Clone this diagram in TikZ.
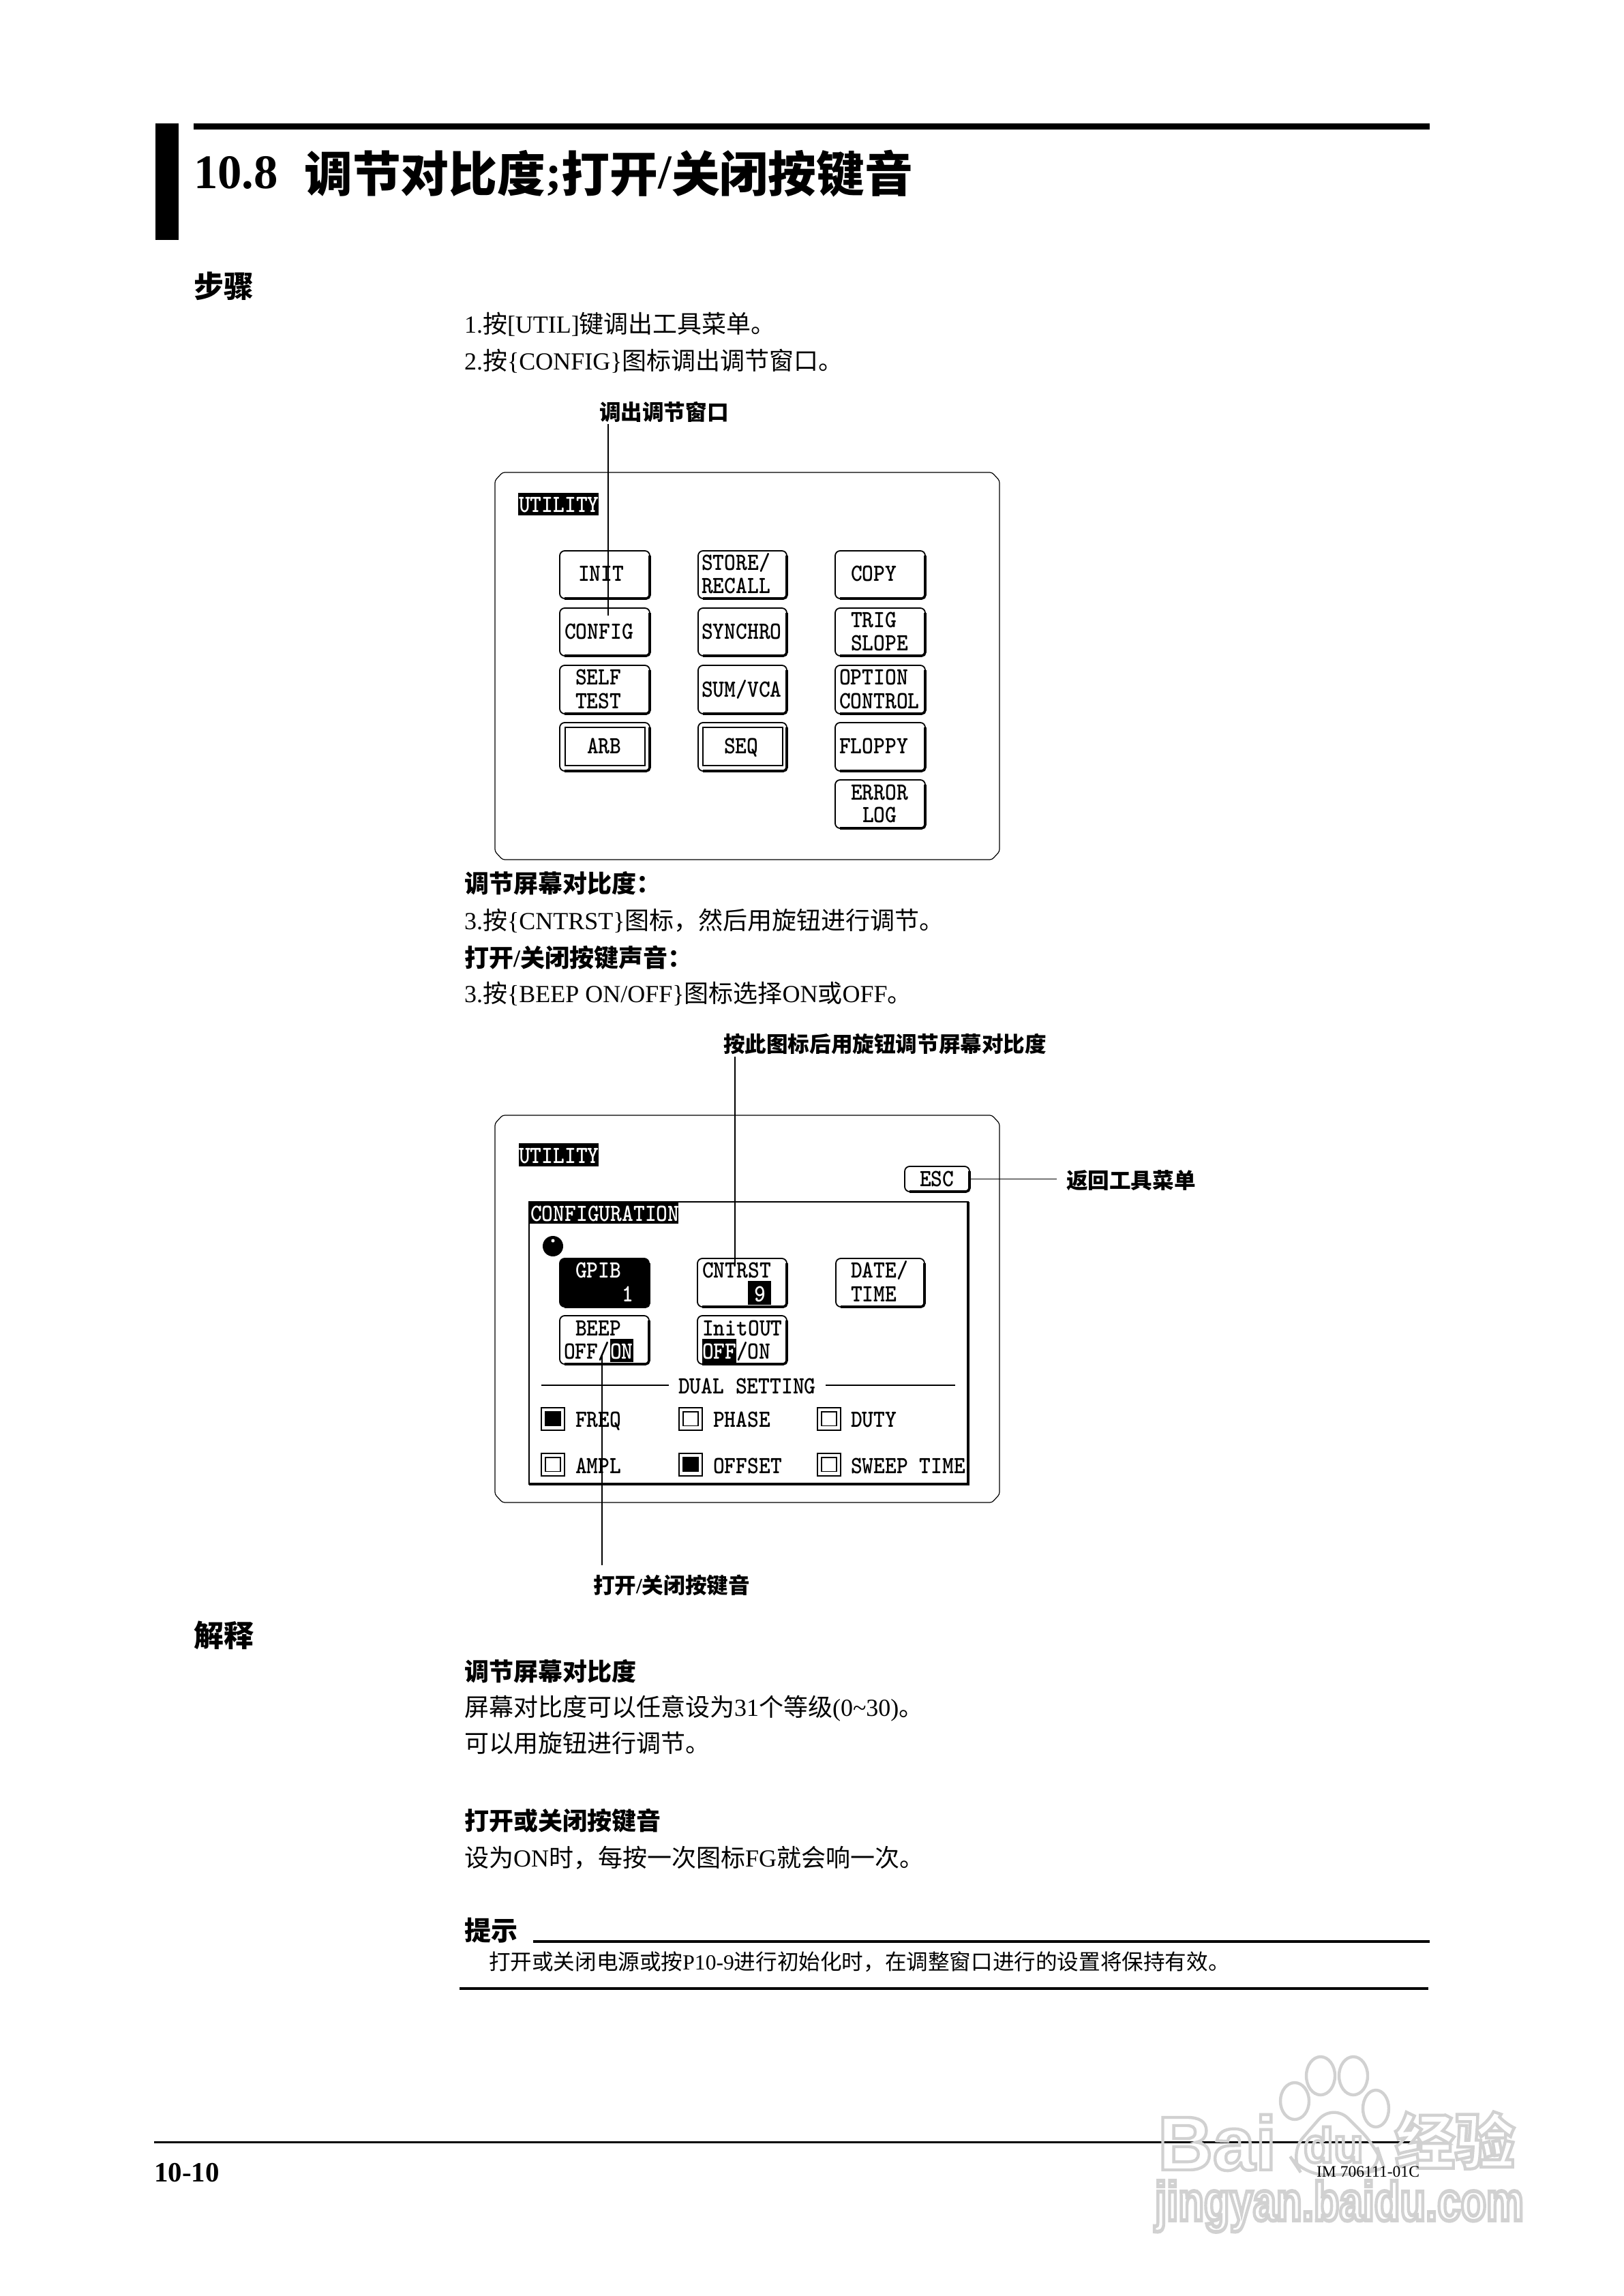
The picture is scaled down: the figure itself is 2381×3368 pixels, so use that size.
\documentclass[tikz,border=0pt]{standalone}
\usepackage{fontspec}
\usetikzlibrary{shapes.geometric}
\setmainfont{Liberation Serif}
\newfontfamily\zhfont{Noto Sans CJK SC}
\newfontfamily\wmsans{Liberation Sans}
\newcommand{\zh}[1]{{\zhfont #1}}
\newcommand{\fsz}[1]{\fontsize{#1}{#1}\selectfont}
\tikzset{
  every node/.style={inner sep=0pt,outer sep=0pt},
  txt/.style={anchor=base west,yshift=-.4pt,font=\fsz{9}},
  bold/.style={anchor=base west,yshift=-.4pt,font=\fsz{9}\bfseries},
  lbl/.style={anchor=base west,font=\fsz{7.9}\bfseries},
  head/.style={anchor=base west,yshift=-.4pt,font=\fsz{11}\bfseries},
  lcd/.style={anchor=base west,yshift=-.5pt,font=\ttfamily\bfseries\fsz{8}},
  neg/.style={lcd,text=white},
  panelline/.style={draw,fill=white,line width=.3pt,rounded corners=.8pt},
  btnbox/.style={draw,fill=white,rounded corners=1.8pt,line width=.45pt},
  shad/.style={line width=.9pt,rounded corners=1.3pt},
  leader/.style={line width=.27pt},
  rule/.style={fill=black,draw=none},
  chkout/.style={draw,fill=white,line width=.5pt},
  chkin/.style={draw,line width=.45pt},
  wm/.style={anchor=base west},
}
\newcommand{\boxnode}[6][]{\node[#1,minimum width={((#5)-(#3))*0.25pt},minimum height={((#6)-(#4))*0.25pt}] (#2) at ({((#3)+(#5))/2},{((#4)+(#6))/2}) {};}
\newcommand{\btn}[6][]{\boxnode[btnbox,#1]{#2}{#3}{#4}{#5}{#6}%
  \draw[shad] ([yshift=-1.8pt]#2.north east) -- (#2.south east) -- ([xshift=1.8pt]#2.south west);}
\newcommand{\chk}[4][white]{\boxnode[chkout]{#2}{#3}{#4}{#3+34}{#4+32.5}\boxnode[chkin,fill=#1]{#2i}{#3+6}{#4+6}{#3+28}{#4+26.5}}
\newcommand{\rect}[5]{\boxnode[rule]{#1}{#2}{#3}{#4}{#5}}
\newcommand{\lt}[5][lcd]{\node[#1] (#2) at (#3,#4) {\scalebox{1}[1.13]{#5}};}
\newcommand{\panelbox}[4]{\path[panelline] ({#1+11},#2) -- ({#3-11},#2) -- (#3,{#2+12}) -- (#3,{#4-12}) -- ({#3-11},#4) -- ({#1+11},#4) -- (#1,{#4-12}) -- (#1,{#2+12}) -- cycle;}
\newcommand{\outl}{\special{pdf:code 1 Tr 1.1 w 0.82 0.82 0.82 RG}}
\newcommand{\outr}{\special{pdf:code 0 Tr 0 0 0 RG}}
\begin{document}
\begin{tikzpicture}[x=0.25pt,y=-0.25pt]
\useasboundingbox (0,0) rectangle (2381,3368);
\fill[white] (0,0) rectangle (2381,3368);

% header
\rect{barL}{228}{181}{262}{352}
\rect{barT}{284}{181}{2097}{190}
\node[anchor=base west,font=\fsz{17.7}\bfseries] (title) at (284,277) {10.8\hspace{9.6pt}\raisebox{-1.2pt}{\zh{调节对比度}};\raisebox{-1.2pt}{\zh{打开}}/\raisebox{-1.2pt}{\zh{关闭按键音}}};
\node[head] (hbz) at (284,435) {\zh{步骤}};

% steps
\node[txt] (s1) at (681,487) {1.\zh{按}[UTIL]\zh{键调出工具菜单。}};
\node[txt] (s2) at (681,541) {2.\zh{按}\{CONFIG\}\zh{图标调出调节窗口。}};
\node[lbl] (l1) at (879,617) {\zh{调出调节窗口}};

% first panel
\panelbox{726}{693}{1466}{1261}
\rect{ua}{760}{723}{878}{756}
\lt[neg]{uat}{761}{750}{UTILITY}
\btn{b11}{821}{808}{953}{878}
\btn{b12}{1024}{808}{1154}{878}
\btn{b13}{1225}{808}{1357}{878}
\btn{b21}{821}{892}{953}{962}
\btn{b22}{1024}{892}{1154}{962}
\btn{b23}{1225}{892}{1357}{962}
\btn{b31}{821}{976}{953}{1047}
\btn{b32}{1024}{976}{1154}{1047}
\btn{b33}{1225}{976}{1357}{1047}
\btn{b41}{821}{1060}{953}{1131}
\btn{b42}{1024}{1060}{1154}{1131}
\btn{b43}{1225}{1060}{1357}{1131}
\btn{b53}{1225}{1144}{1357}{1215}
\boxnode[draw,line width=.5pt]{b41i}{829}{1067}{946}{1123}
\boxnode[draw,line width=.5pt]{b42i}{1031}{1067}{1148}{1123}
\lt{t1}{848}{851}{INIT}
\lt{t2a}{1029}{835}{STORE/}
\lt{t2b}{1029}{869}{RECALL}
\lt{t3}{1248}{851}{COPY}
\lt{t4}{828}{935}{CONFIG}
\lt{t5}{1029}{935}{SYNCHRO}
\lt{t6a}{1248}{918}{TRIG}
\lt{t6b}{1248}{952}{SLOPE}
\lt{t7a}{844}{1002}{SELF}
\lt{t7b}{844}{1037}{TEST}
\lt{t8}{1029}{1020}{SUM/VCA}
\lt{t9a}{1231}{1002}{OPTION}
\lt{t9b}{1231}{1037}{CONTROL}
\lt{t10}{861}{1103}{ARB}
\lt{t11}{1062}{1103}{SEQ}
\lt{t12}{1231}{1103}{FLOPPY}
\lt{t13a}{1248}{1171}{ERROR}
\lt{t13b}{1265}{1204}{LOG}
\coordinate (c1) at (892,903);
\draw[leader] ([yshift=-.5pt]l1.south -| c1) -- (c1);

% steps 3
\node[bold] (h2) at (681,1308) {\zh{调节屏幕对比度：}};
\node[txt] (s3) at (681,1362) {3.\zh{按}\{CNTRST\}\zh{图标，然后用旋钮进行调节。}};
\node[bold] (h3) at (681,1417) {\zh{打开}/\zh{关闭按键声音：}};
\node[txt] (s4) at (681,1469) {3.\zh{按}\{BEEP ON/OFF\}\zh{图标选择}ON\zh{或}OFF\zh{。}};
\node[lbl] (l2) at (1061,1543) {\zh{按此图标后用旋钮调节屏幕对比度}};

% second panel
\panelbox{726}{1636}{1466}{2204}
\rect{ub}{761}{1677}{878}{1711}
\lt[neg]{ubt}{761}{1704}{UTILITY}
\btn{esc}{1327}{1711}{1422}{1748}
\lt{esct}{1349}{1738}{ESC}
\node[lbl] (l3) at (1564,1743) {\zh{返回工具菜单}};
\draw[leader] (esc.east) -- ([xshift=-3.5pt]l3.west |- esc.east);
\boxnode[draw,fill=white,line width=.5pt]{cfg}{776}{1763}{1420}{2177}
\draw[line width=.9pt] (cfg.north east) -- (cfg.south east) -- (cfg.south west);
\rect{cfgh}{776}{1763}{995}{1795}
\lt[neg]{cfgt}{778}{1789}{CONFIGURATION}
\node[circle,fill=black,minimum size={30*0.25pt}] (knob) at (811,1828) {};
\node[circle,fill=white,minimum size={5*0.25pt}] (knobd) at (811,1820) {};
\btn[fill=black]{gpib}{821}{1846}{952}{1917}
\btn{cnt}{1023}{1846}{1154}{1917}
\btn{date}{1226}{1846}{1356}{1917}
\btn{beep}{821}{1930}{952}{2001}
\btn{inito}{1023}{1930}{1154}{2001}
\lt[neg]{tg1}{844}{1872}{GPIB}
\lt[neg]{tg2}{912}{1907}{1}
\lt{tc1}{1030}{1872}{CNTRST}
\rect{c9}{1097}{1879}{1131}{1914}
\lt[neg]{tc2}{1106}{1907}{9}
\lt{td1}{1248}{1872}{DATE/}
\lt{td2}{1248}{1907}{TIME}
\lt{tb1}{844}{1957}{BEEP}
\lt{tb2}{827}{1991}{OFF/}
\rect{bon}{895}{1964}{929}{1998}
\lt[neg]{tb3}{895}{1991}{ON}
\lt{ti1}{1030}{1957}{InitOUT}
\rect{ioff}{1030}{1964}{1080}{2000}
\lt[neg]{ti2}{1030}{1991}{OFF}
\lt{ti3}{1080}{1991}{/ON}
\lt{dual}{995}{2042}{DUAL SETTING}
\coordinate (d1) at (794,2032);
\coordinate (d2) at (1401,2032);
\draw[line width=.5pt] (d1) -- ([xshift=-3.5pt]dual.west |- d1);
\draw[line width=.5pt] (d2) -- ([xshift=3.5pt]dual.east |- d2);
\chk[black]{k1}{794}{2065}
\chk{k2}{996}{2065}
\chk{k3}{1199}{2065}
\chk{k4}{794}{2132}
\chk[black]{k5}{996}{2132}
\chk{k6}{1199}{2132}
\lt{q1}{844}{2091}{FREQ}
\lt{q2}{1046}{2091}{PHASE}
\lt{q3}{1248}{2091}{DUTY}
\lt{q4}{844}{2159}{AMPL}
\lt{q5}{1046}{2159}{OFFSET}
\lt{q6}{1248}{2159}{SWEEP TIME}
\coordinate (c2) at (1078,1853);
\draw[leader] ([yshift=-1pt]l2.south -| c2) -- (c2);
\node[lbl] (l4) at (870,2337) {\zh{打开}/\zh{关闭按键音}};
\coordinate (c4) at (883,1988);
\draw[leader] (c4) -- ([yshift=3.5pt]l4.north -| c4);

% explanation
\node[head] (hjs) at (284,2414) {\zh{解释}};
\node[bold] (e1) at (681,2464) {\zh{调节屏幕对比度}};
\node[txt] (e2) at (681,2516) {\zh{屏幕对比度可以任意设为}31\zh{个等级}(0\textasciitilde30)\zh{。}};
\node[txt] (e3) at (681,2569) {\zh{可以用旋钮进行调节。}};
\node[bold] (e4) at (681,2683) {\zh{打开或关闭按键音}};
\node[txt] (e5) at (681,2737) {\zh{设为}ON\zh{时，每按一次图标}FG\zh{就会响一次。}};

% note
\node[anchor=base west,font=\fsz{9.75}\bfseries] (tip) at (681,2846) {\zh{提示}};
\rect{rt}{782}{2846}{2097}{2850}
\node[anchor=base west,font=\fsz{7.9}] (tipt) at (717,2889) {\zh{打开或关闭电源或按}P10-9\zh{进行初始化时，在调整窗口进行的设置将保持有效。}};
\rect{rb}{674}{2915}{2095}{2919}

% footer
\rect{rf}{226}{3141}{2097}{3144}
\node[anchor=base west,font=\fsz{10.25}\bfseries] (pg) at (226,3200) {10-10};

% watermark
\draw[line width=1.1pt,draw=black!18] (1899,3082) ellipse (21 and 27);
\draw[line width=1.1pt,draw=black!18] (1937,3045) ellipse (21 and 28);
\draw[line width=1.1pt,draw=black!18] (1985,3045) ellipse (21 and 28);
\draw[line width=1.1pt,draw=black!18] (2018,3093) ellipse (19 and 27);
\draw[line width=1.1pt,draw=black!18,rounded corners=8pt] (1955,3085) -- (2020,3150) -- (2030,3180) -- (1995,3190) -- (1910,3190) -- (1890,3160) -- cycle;
\node[wm,font=\wmsans\bfseries\fsz{28}] (wmb) at (1698,3183) {\outl Bai\outr};
\node[wm,font=\wmsans\bfseries\fsz{18}] (wmd) at (1912,3172) {\outl du\outr};
\node[wm,font=\zhfont\bfseries\fsz{22}] (wmz) at (2046,3174) {\outl 经验\outr};
\node[wm,font=\wmsans\bfseries\fsz{15.4}] (wmj) at (1694,3257) {\scalebox{1}[1.3]{\outl jingyan.baidu.com\outr}};
\node[anchor=base west,font=\fsz{5.9}] (im) at (1931,3193) {IM 706111-01C};
\end{tikzpicture}
\end{document}
